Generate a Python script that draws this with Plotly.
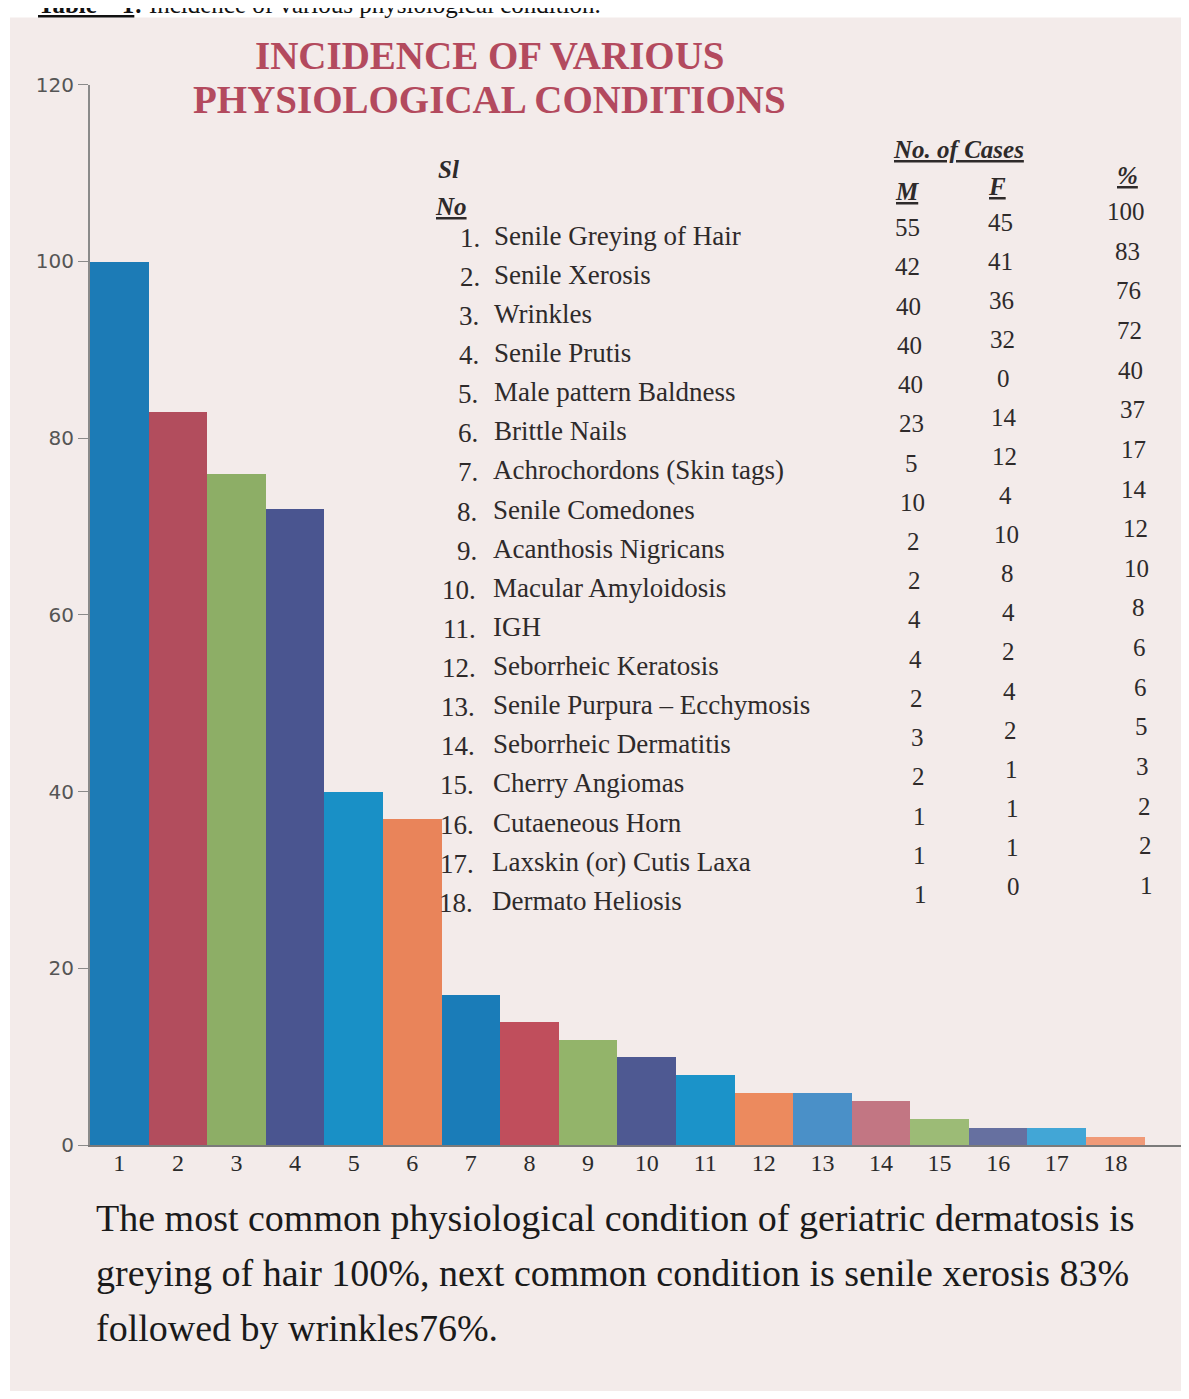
import plotly.graph_objects as go

# ---------------- data ----------------
sl_no = list(range(1, 19))
conditions = [
    "Senile Greying of Hair", "Senile Xerosis", "Wrinkles", "Senile Prutis",
    "Male pattern Baldness", "Brittle Nails", "Achrochordons (Skin tags)",
    "Senile Comedones", "Acanthosis Nigricans", "Macular Amyloidosis", "IGH",
    "Seborrheic Keratosis", "Senile Purpura \u2013 Ecchymosis",
    "Seborrheic Dermatitis", "Cherry Angiomas", "Cutaeneous Horn",
    "Laxskin (or) Cutis Laxa", "Dermato Heliosis",
]
male = [55, 42, 40, 40, 40, 23, 5, 10, 2, 2, 4, 4, 2, 3, 2, 1, 1, 1]
female = [45, 41, 36, 32, 0, 14, 12, 4, 10, 8, 4, 2, 4, 2, 1, 1, 1, 0]
percent = [100, 83, 76, 72, 40, 37, 17, 14, 12, 10, 8, 6, 6, 5, 3, 2, 2, 1]
y_ticks = [0, 20, 40, 60, 80, 100, 120]

bar_colors = ["#1c7bb6", "#b24d5d", "#8dae66", "#4a5590", "#1990c6", "#e9845a",
              "#1a7cb8", "#c04e5c", "#93b46a", "#4e5992", "#1b93c9", "#ec8a5e",
              "#4a90c8", "#c27683", "#9cbb76", "#6670a0", "#42a6d6", "#f09a78"]

# figure sits inside the page's body margin; map target page pixels to paper coords
W, H = 1173, 1383
X_OFF = 8
Y_SCALE, Y_OFF = 0.98208, 20.38
def px(x):
    return (x - X_OFF) / W
def py(y):
    return 1 - ((y - Y_OFF) / Y_SCALE) / H

fig = go.Figure()
fig.add_trace(go.Bar(x=sl_no, y=percent, marker=dict(color=bar_colors, line=dict(width=0)),
                     width=1, showlegend=False, hoverinfo="x+y"))

ann = []
serif = "Liberation Serif"
txt_col = "#2e2a2a"

# caption at top (partly cut off by the page edge, as in the photo)
ann.append(dict(x=px(36), y=py(5), xanchor="left", yanchor="middle",
                text="<b><u>Table \u2013 1</u>:</b> Incidence of various physiological condition.",
                font=dict(family=serif, size=25, color="#111")))

# title
ann.append(dict(x=px(490), y=py(56), xanchor="center", yanchor="middle",
                text="<b>INCIDENCE OF VARIOUS</b>",
                font=dict(family=serif, size=39, color="#b34a5e")))
ann.append(dict(x=px(489), y=py(100), xanchor="center", yanchor="middle",
                text="<b>PHYSIOLOGICAL CONDITIONS</b>",
                font=dict(family=serif, size=39, color="#b34a5e")))

# table headers
hdr = dict(family=serif, size=25, color=txt_col)
ann.append(dict(x=px(436), y=py(170), xanchor="left", yanchor="middle",
                text="<b><i>Sl</i></b>", font=hdr))
ann.append(dict(x=px(433), y=py(207), xanchor="left", yanchor="middle",
                text="<b><i><u>No</u></i></b>", font=hdr))
ann.append(dict(x=px(958), y=py(150), xanchor="center", yanchor="middle",
                text="<b><i><u>No. of Cases</u></i></b>", font=hdr))
ann.append(dict(x=px(907), y=py(192), xanchor="center", yanchor="middle",
                text="<b><i><u>M</u></i></b>", font=hdr))
ann.append(dict(x=px(997), y=py(187), xanchor="center", yanchor="middle",
                text="<b><i><u>F</u></i></b>", font=hdr))
ann.append(dict(x=px(1127), y=py(176), xanchor="center", yanchor="middle",
                text="<b><i><u>%</u></i></b>", font=hdr))

# table rows
name_font = dict(family=serif, size=27, color=txt_col)
num_font = dict(family=serif, size=25, color=txt_col)
for i, (n, name, m, f, p) in enumerate(zip(sl_no, conditions, male, female, percent)):
    yn = 238 + i * 39.1
    ann.append(dict(x=px(482 - 0.4 * i), y=py(yn), xanchor="right", yanchor="middle",
                    text=f"{n}.", font=name_font))
    ann.append(dict(x=px(492 - 0.1 * i), y=py(yn - 2), xanchor="left", yanchor="middle",
                    text=name, font=name_font))
    ann.append(dict(x=px(907 + 0.8 * i), y=py(228 + i * 39.2), xanchor="center", yanchor="middle",
                    text=str(m), font=num_font))
    ann.append(dict(x=px(1000 + 0.8 * i), y=py(223 + i * 39.0), xanchor="center", yanchor="middle",
                    text=str(f), font=num_font))
    ann.append(dict(x=px(1126 + 1.2 * i), y=py(212 + i * 39.6), xanchor="center", yanchor="middle",
                    text=str(p), font=num_font))

# bottom paragraph
para = [
    "The most common physiological condition of geriatric dermatosis is",
    "greying of hair 100%, next common condition is senile xerosis 83%",
    "followed by wrinkles76%.",
]
for j, line in enumerate(para):
    ann.append(dict(x=px(94), y=py(1218 + j * 55), xanchor="left", yanchor="middle",
                    text=line, font=dict(family=serif, size=38, color="#1a1a1a")))

for a in ann:
    a.update(xref="paper", yref="paper", showarrow=False)

fig.update_layout(
    width=W, height=H,
    margin=dict(l=0, r=0, t=0, b=0),
    paper_bgcolor="white",
    plot_bgcolor="rgba(0,0,0,0)",
    bargap=0,
    annotations=ann,
    shapes=[dict(type="rect", xref="paper", yref="paper", x0=px(10), x1=px(1189),
                 y0=py(1399), y1=py(18),
                 fillcolor="#f3ebea", line=dict(width=0), layer="below")],
    xaxis=dict(domain=[px(90), 1.0], range=[0.5, 19.12], tickmode="array",
               tickvals=sl_no, ticktext=[str(v) for v in sl_no],
               showgrid=False, zeroline=False, showline=True, linecolor="#7a7a7a",
               linewidth=2, ticks="", anchor="y", ticklabelstandoff=-5,
               tickfont=dict(family=serif, size=24, color="#2a2a2a")),
    yaxis=dict(domain=[py(1145), py(85)], range=[0, 120], tickmode="array",
               tickvals=y_ticks, showgrid=False, zeroline=False, showline=True,
               linecolor="#8a8a8a", linewidth=2, ticks="outside", ticklen=10,
               tickcolor="#8a8a8a", anchor="x",
               tickfont=dict(family="DejaVu Sans", size=20, color="#555")),
)

fig.write_html("out.html")
